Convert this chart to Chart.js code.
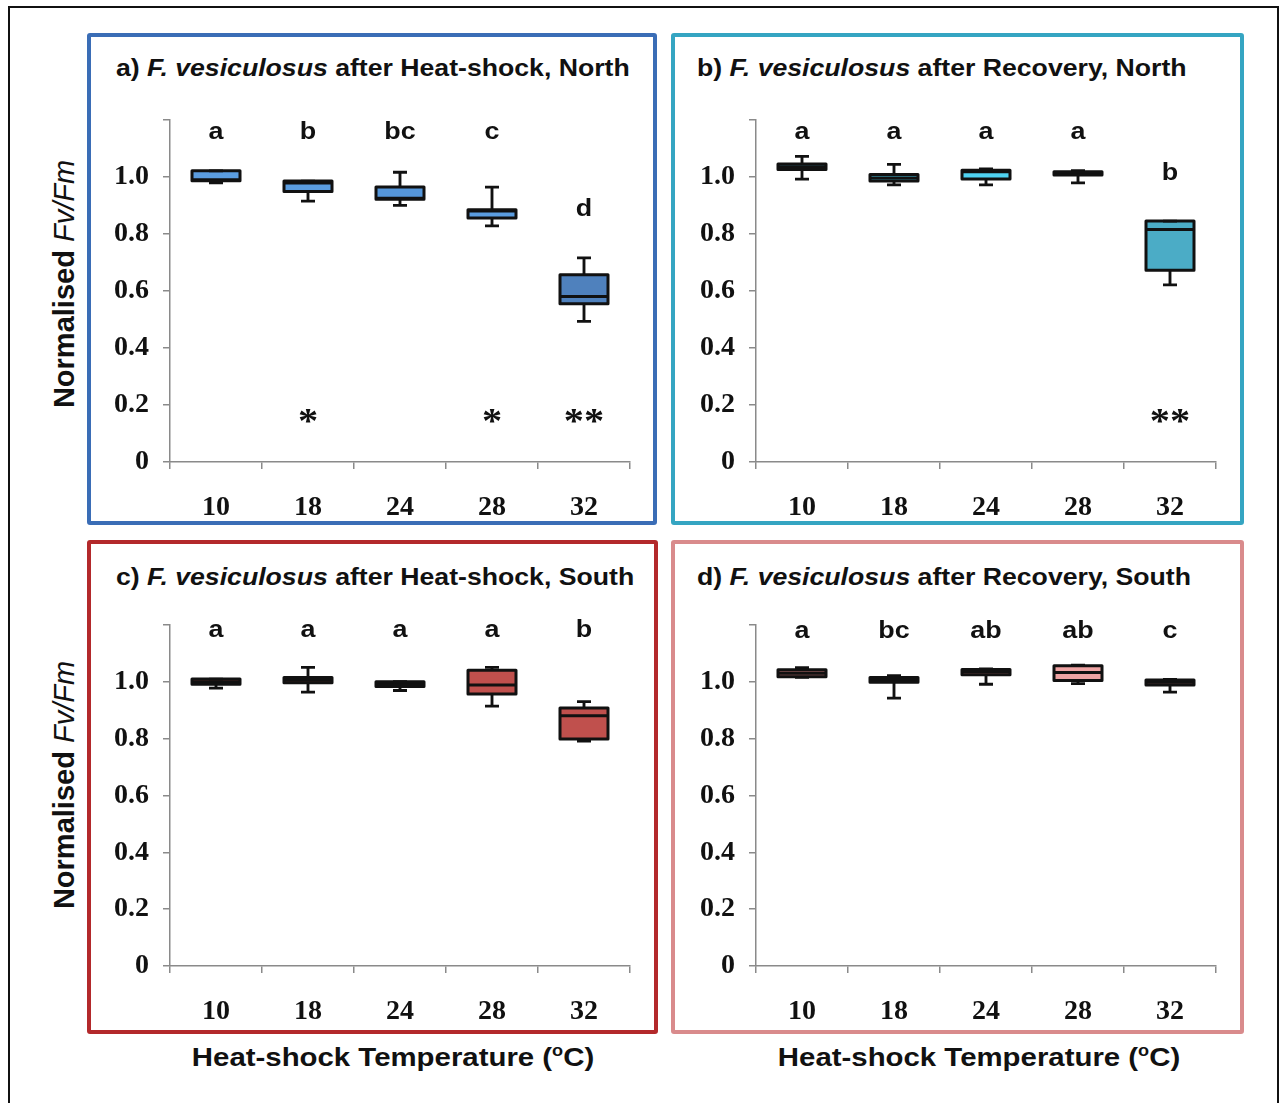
<!DOCTYPE html>
<html>
<head>
<meta charset="utf-8">
<script src="https://cdn.jsdelivr.net/npm/chart.js@4.4.1/dist/chart.umd.min.js"></script>
<style>
  html, body { margin: 0; padding: 0; background: #fff; }
  body { width: 1282px; height: 1103px; position: relative; overflow: hidden; }
  .frame { position: absolute; left: 8px; top: 6px; width: 1271px; height: 1120px; border: 2px solid #111; box-sizing: border-box; }
  .panel { position: absolute; box-sizing: border-box; border: 4px solid; border-radius: 3px; }
  canvas { position: absolute; }
  .ttl { position: absolute; font-family: "Liberation Sans", Arial, sans-serif; font-weight: bold; font-size: 24px; line-height: 28px; white-space: nowrap; color: #111; transform: scaleX(1.11); transform-origin: 0 50%; }
  .ttl i { font-style: italic; }
  .ylab { position: absolute; font-family: "Liberation Sans", Arial, sans-serif; font-weight: bold; font-size: 29px; white-space: nowrap; color: #111; transform: translate(-50%, -50%) rotate(-90deg); }
  .ylab i { font-weight: normal; }
  .xlab { position: absolute; font-family: "Liberation Sans", Arial, sans-serif; font-weight: bold; font-size: 26px; white-space: nowrap; color: #111; transform: translate(-50%, -50%) scaleX(1.13); }
  .xlab sup { font-size: 16px; }
</style>
</head>
<body>
<div class="frame"></div>

<div class="panel" style="left:87px;top:33px;width:570px;height:492px;border-color:#3a6db6;"></div>
<div class="panel" style="left:671px;top:33px;width:573px;height:492px;border-color:#35a5c2;"></div>
<div class="panel" style="left:87px;top:540px;width:571px;height:494px;border-color:#b3292b;"></div>
<div class="panel" style="left:671px;top:540px;width:573px;height:494px;border-color:#d98b8c;"></div>

<div class="ttl" style="left:116px;top:54px;">a) <i>F. vesiculosus</i> after Heat-shock, North</div>
<div class="ttl" style="left:697px;top:54px;">b) <i>F. vesiculosus</i> after Recovery, North</div>
<div class="ttl" style="left:116px;top:563px;">c) <i>F. vesiculosus</i> after Heat-shock, South</div>
<div class="ttl" style="left:697px;top:563px;">d) <i>F. vesiculosus</i> after Recovery, South</div>

<div class="ylab" style="left:64px;top:284px;">Normalised <i>Fv/Fm</i></div>
<div class="ylab" style="left:64px;top:785px;">Normalised <i>Fv/Fm</i></div>
<div class="xlab" style="left:393px;top:1057px;">Heat-shock Temperature (<sup>o</sup>C)</div>
<div class="xlab" style="left:979px;top:1057px;">Heat-shock Temperature (<sup>o</sup>C)</div>

<canvas id="ca" width="566" height="432" style="left:91px;top:89px;"></canvas>
<canvas id="cb" width="567" height="432" style="left:676px;top:89px;"></canvas>
<canvas id="cc" width="566" height="431" style="left:91px;top:594px;"></canvas>
<canvas id="cd" width="567" height="431" style="left:676px;top:594px;"></canvas>

<script>
// Heat-shock temperatures (°C)
const temps = ['10', '18', '24', '28', '32'];
const yTicks = [0, 0.2, 0.4, 0.6, 0.8, 1.0, 1.2];

// a) North, after heat-shock
const northShockMin = [0.979, 0.915, 0.900, 0.828, 0.493];
const northShockQ1  = [0.986, 0.949, 0.921, 0.856, 0.555];
const northShockMed = [0.990, 0.978, 0.925, 0.880, 0.580];
const northShockQ3  = [1.021, 0.985, 0.964, 0.885, 0.657];
const northShockMax = [1.021, 0.985, 1.016, 0.964, 0.716];
const northShockLetters = ['a', 'b', 'bc', 'c', 'd'];
const northShockStars = ['', '*', '', '*', '**'];

// b) North, after recovery
const northRecMin = [0.992, 0.972, 0.972, 0.979, 0.621];
const northRecQ1  = [1.026, 0.985, 0.992, 1.006, 0.672];
const northRecMed = [1.035, 0.996, 1.018, 1.012, 0.815];
const northRecQ3  = [1.045, 1.008, 1.023, 1.018, 0.845];
const northRecMax = [1.072, 1.044, 1.028, 1.022, 0.845];
const northRecLetters = ['a', 'a', 'a', 'a', 'b'];
const northRecStars = ['', '', '', '', '**'];

// c) South, after heat-shock
const southShockMin = [0.977, 0.963, 0.969, 0.914, 0.791];
const southShockQ1  = [0.991, 0.996, 0.983, 0.957, 0.798];
const southShockMed = [1.000, 1.005, 0.990, 0.988, 0.880];
const southShockQ3  = [1.009, 1.015, 1.000, 1.040, 0.907];
const southShockMax = [1.009, 1.050, 1.000, 1.050, 0.930];
const southShockLetters = ['a', 'a', 'a', 'a', 'b'];
const southShockStars = ['', '', '', '', ''];

// d) South, after recovery
const southRecMin = [1.015, 0.942, 0.991, 0.993, 0.963];
const southRecQ1  = [1.017, 0.998, 1.024, 1.004, 0.988];
const southRecMed = [1.030, 1.005, 1.035, 1.032, 0.998];
const southRecQ3  = [1.042, 1.015, 1.043, 1.056, 1.006];
const southRecMax = [1.049, 1.021, 1.045, 1.058, 1.008];
const southRecLetters = ['a', 'bc', 'ab', 'ab', 'c'];
const southRecStars = ['', '', '', '', ''];

const AXIS_GREY = '#8a8a8a';
const TICK_FONT = { family: '"Liberation Serif", "Times New Roman", serif', size: 28, weight: 'bold' };

// Box outlines, group letters and significance stars, placed through the chart scales
const boxDecor = {
  id: 'boxDecor',
  afterDatasetsDraw(chart, args, opts) {
    const ctx = chart.ctx;
    const xs = chart.scales.x, ys = chart.scales.y;
    const boxMeta = chart.getDatasetMeta(1);
    ctx.save();
    ctx.strokeStyle = '#111';
    ctx.lineWidth = 3;
    ctx.lineJoin = 'round';
    boxMeta.data.forEach(el => {
      const p = el.getProps(['x', 'y', 'base', 'width'], true);
      const top = Math.min(p.y, p.base), h = Math.abs(p.base - p.y);
      ctx.strokeRect(p.x - p.width / 2, top, p.width, h);
    });
    ctx.restore();

    const stretchText = (t, x, y) => {
      ctx.save();
      ctx.translate(x, y);
      ctx.scale(1.12, 1);
      ctx.fillText(t, 0, 0);
      ctx.restore();
    };

    ctx.save();
    ctx.fillStyle = '#111';
    ctx.textAlign = 'center';
    ctx.textBaseline = 'alphabetic';
    ctx.font = 'bold 24px "Liberation Sans", Arial, sans-serif';
    opts.letters.forEach((t, i) => {
      const hi = opts.max[i];
      // letters sit on a common row unless the box is far below it
      const v = hi < 0.9 ? hi + 0.145 : opts.letterRow;
      stretchText(t, xs.getPixelForValue(i), ys.getPixelForValue(v));
    });
    ctx.font = 'bold 36px "Liberation Serif", "Times New Roman", serif';
    ctx.textBaseline = 'middle';
    opts.stars.forEach((t, i) => {
      if (!t) return;
      stretchText(t, xs.getPixelForValue(i), ys.getPixelForValue(0.135));
    });
    ctx.restore();
  }
};

function drawPanel(id, d) {
  const ranges = (lo, hi) => lo.map((v, i) => [v, hi[i]]);
  new Chart(document.getElementById(id), {
    type: 'bar',
    plugins: [boxDecor],
    data: {
      labels: temps,
      datasets: [
        { // whisker stem
          type: 'bar', data: ranges(d.min, d.max), grouped: false, order: 5,
          barThickness: 2.2, backgroundColor: '#111', borderWidth: 0
        },
        { // interquartile box
          type: 'bar', data: ranges(d.q1, d.q3), grouped: false, order: 4,
          barThickness: 48, backgroundColor: d.fills, borderWidth: 0
        },
        { // median
          type: 'line', data: d.med, order: 3, showLine: false,
          pointStyle: 'line', pointRadius: 24, pointBorderWidth: 3,
          pointBorderColor: '#111', pointHoverRadius: 24
        },
        { // lower cap
          type: 'line', data: d.min, order: 2, showLine: false,
          pointStyle: 'line', pointRadius: 7, pointBorderWidth: 2.8,
          pointBorderColor: '#111', pointHoverRadius: 7
        },
        { // upper cap
          type: 'line', data: d.max, order: 1, showLine: false,
          pointStyle: 'line', pointRadius: 7, pointBorderWidth: 2.8,
          pointBorderColor: '#111', pointHoverRadius: 7
        }
      ]
    },
    options: {
      responsive: false,
      animation: false,
      devicePixelRatio: 1,
      events: [],
      layout: { padding: { top: 0, right: 0, left: 0, bottom: 0 } },
      plugins: {
        legend: { display: false },
        tooltip: { enabled: false },
        title: { display: false },
        boxDecor: { letters: d.letters, stars: d.stars, max: d.max, letterRow: d.letterRow }
      },
      scales: {
        x: {
          offset: true,
          grid: { offset: true, drawOnChartArea: false, drawTicks: true, tickLength: 7, color: AXIS_GREY, lineWidth: 1.5 },
          border: { display: true, color: AXIS_GREY, width: 1.5 },
          ticks: { color: '#111', padding: 22, font: TICK_FONT },
          afterFit: s => { s.height = 59; }
        },
        y: {
          min: 0, max: 1.2,
          afterBuildTicks: s => { s.ticks = yTicks.map(v => ({ value: v })); },
          grid: { drawOnChartArea: false, drawTicks: true, tickLength: 7, color: AXIS_GREY, lineWidth: 1.5 },
          border: { display: true, color: AXIS_GREY, width: 1.5 },
          ticks: {
            color: '#111', padding: 14, font: TICK_FONT,
            callback: v => v === 0 ? '0' : (v > 1.1 ? '' : v.toFixed(1))
          },
          afterFit: s => { s.width = d.yWidth; }
        }
      }
    }
  });
}

drawPanel('ca', {
  min: northShockMin, q1: northShockQ1, med: northShockMed, q3: northShockQ3, max: northShockMax,
  letters: northShockLetters, stars: northShockStars, letterRow: 1.132,
  fills: ['#5b9de0', '#5b9de0', '#5596da', '#5b9de0', '#4f81bd'], yWidth: 79
});
drawPanel('cb', {
  min: northRecMin, q1: northRecQ1, med: northRecMed, q3: northRecQ3, max: northRecMax,
  letters: northRecLetters, stars: northRecStars, letterRow: 1.132,
  fills: ['#40bcd9', '#40bcd9', '#4fd3f2', '#40bcd9', '#4bacc6'], yWidth: 80
});
drawPanel('cc', {
  min: southShockMin, q1: southShockQ1, med: southShockMed, q3: southShockQ3, max: southShockMax,
  letters: southShockLetters, stars: southShockStars, letterRow: 1.158,
  fills: ['#c0504d', '#c0504d', '#c0504d', '#c0504d', '#c0504d'], yWidth: 79
});
drawPanel('cd', {
  min: southRecMin, q1: southRecQ1, med: southRecMed, q3: southRecQ3, max: southRecMax,
  letters: southRecLetters, stars: southRecStars, letterRow: 1.154,
  fills: ['#a86464', '#a86464', '#a86464', '#eea3a3', '#a86464'], yWidth: 80
});
</script>
</body>
</html>
